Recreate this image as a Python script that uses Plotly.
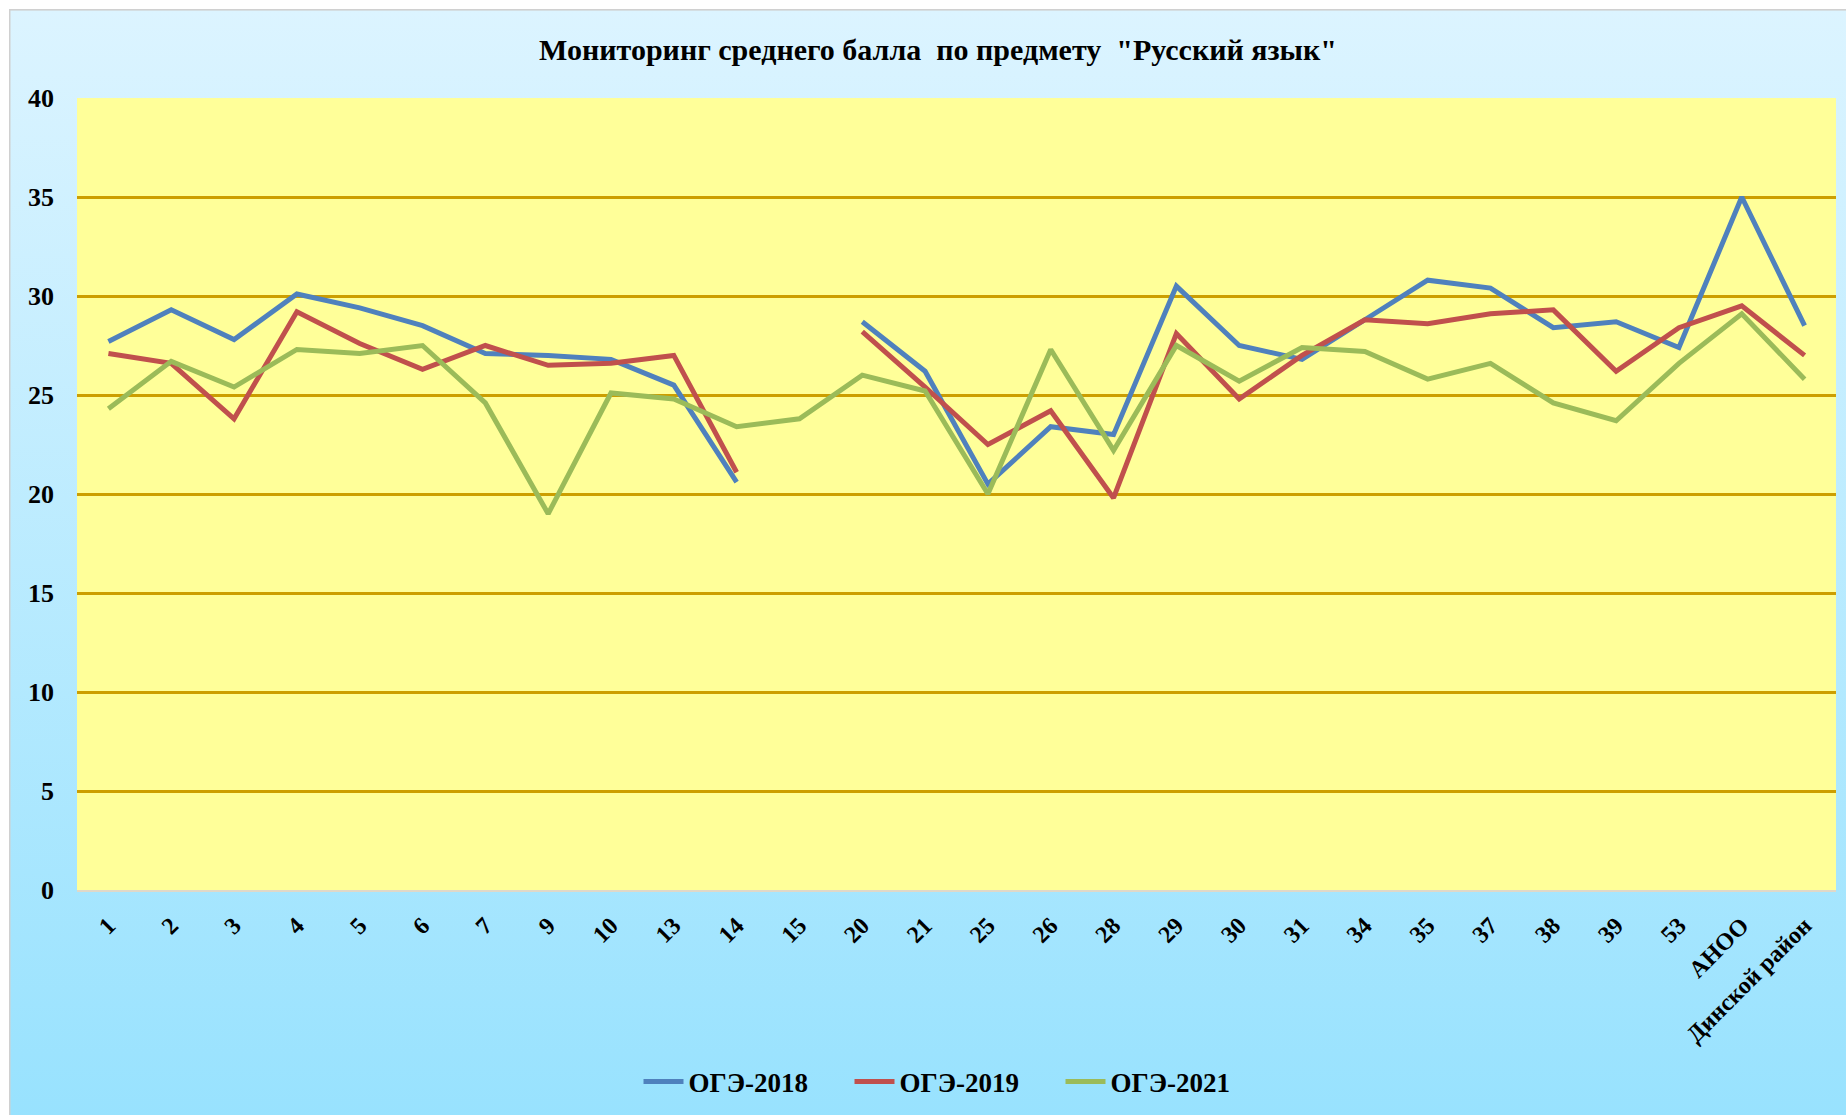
import base64
import plotly.graph_objects as go

categories = ["1", "2", "3", "4", "5", "6", "7", "9", "10", "13", "14", "15", "20", "21",
              "25", "26", "28", "29", "30", "31", "34", "35", "37", "38", "39", "53",
              "АНОО", "Динской район"]

oge_2018 = [27.7, 29.3, 27.8, 30.1, 29.4, 28.5, 27.1, 27.0, 26.8, 25.5, 20.6, None, 28.7, 26.2,
            20.5, 23.4, 23.0, 30.5, 27.5, 26.8, 28.8, 30.8, 30.4, 28.4, 28.7, 27.4, 35.0, 28.5]
oge_2019 = [27.1, 26.6, 23.8, 29.2, 27.6, 26.3, 27.5, 26.5, 26.6, 27.0, 21.1, None, 28.2, 25.4,
            22.5, 24.2, 19.8, 28.1, 24.8, 27.0, 28.8, 28.6, 29.1, 29.3, 26.2, 28.4, 29.5, 27.0]
oge_2021 = [24.3, 26.7, 25.4, 27.3, 27.1, 27.5, 24.6, 19.0, 25.1, 24.8, 23.4, 23.8, 26.0, 25.2,
            20.0, 27.3, 22.2, 27.5, 25.7, 27.4, 27.2, 25.8, 26.6, 24.6, 23.7, 26.6, 29.1, 25.8]

series_names = ["ОГЭ-2018", "ОГЭ-2019", "ОГЭ-2021"]
series_colors = ["#4F81BD", "#C0504D", "#9BBB59"]

title_text = 'Мониторинг среднего балла  по предмету  "Русский язык"'
y_ticks = [0, 5, 10, 15, 20, 25, 30, 35, 40]

W, H = 1846, 1115
ML, MR, MT, MB = 77, 10, 98, 224
PW = W - ML - MR
PH = H - MT - MB

FONT = "Liberation Serif, Times New Roman, serif"

fig = go.Figure()
for name, vals, col in zip(series_names, [oge_2018, oge_2019, oge_2021], series_colors):
    fig.add_trace(go.Scatter(x=categories, y=vals, name=name, mode="lines",
                             line=dict(color=col, width=5), connectgaps=False))

# gradient background for chart area (inset frame)
fx0, fy0 = 9, 9
gw, gh = W - fx0 + 4, H - fy0 + 4
svg = f'''<svg xmlns="http://www.w3.org/2000/svg" width="{gw}" height="{gh}" viewBox="0 0 {gw} {gh}" preserveAspectRatio="none">
<defs><linearGradient id="g" x1="0" y1="0" x2="0" y2="1">
<stop offset="0" stop-color="#DCF4FF"/><stop offset="1" stop-color="#98E2FE"/></linearGradient></defs>
<rect x="0" y="0" width="{gw}" height="{gh}" fill="url(#g)" stroke="#D0D0D0" stroke-width="3"/>
</svg>'''
src = "data:image/svg+xml;base64," + base64.b64encode(svg.encode()).decode()

fig.add_layout_image(dict(source=src, xref="paper", yref="paper",
                          x=(fx0 - ML) / PW, y=(H - MB - fy0) / PH,
                          sizex=gw / PW, sizey=gh / PH, sizing="stretch",
                          xanchor="left", yanchor="top", layer="below"))

# yellow plot area
fig.add_shape(type="rect", xref="paper", yref="paper", x0=0, x1=1, y0=0, y1=1,
              fillcolor="#FFFF99", line=dict(width=0), layer="below")

fig.update_layout(
    width=W, height=H,
    margin=dict(l=ML, r=MR, t=MT, b=MB),
    paper_bgcolor="white",
    plot_bgcolor="rgba(0,0,0,0)",
    title=dict(text=title_text, x=(938 - ML) / PW, xref="paper", xanchor="center",
               y=1 - 49 / H, yanchor="middle",
               font=dict(family=FONT, size=30, color="black", weight="bold")),
    showlegend=True,
    legend=dict(orientation="h", x=(955 - ML) / PW, xanchor="center", xref="paper",
                y=(H - MB - 1082) / PH, yanchor="middle", yref="paper",
                font=dict(family=FONT, size=27, color="black", weight="bold"),
                bgcolor="rgba(0,0,0,0)", itemwidth=40, entrywidth=156),
    xaxis=dict(type="category", tickangle=-45, showgrid=False,
               tickfont=dict(family=FONT, size=24, color="black", weight="bold"),
               showline=True, linecolor="#E0D8C8", linewidth=2,
               ticks="", ticklabelstandoff=10, range=[-0.5, len(categories) - 0.5]),
    yaxis=dict(range=[0, 40], tickvals=y_ticks, showgrid=True,
               gridcolor="#CC9E00", gridwidth=2.5, zeroline=False,
               tickfont=dict(family=FONT, size=26, color="black", weight="bold"),
               ticks="", ticklabelstandoff=22),
)

fig.write_html("out.html", config={"displayModeBar": False},
               post_script="document.body.style.margin='0';document.body.style.overflow='hidden';")
